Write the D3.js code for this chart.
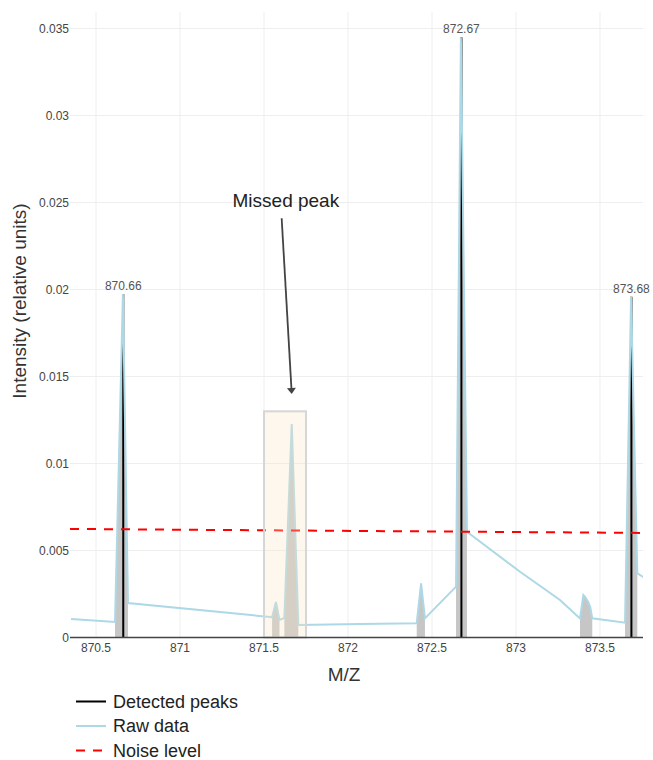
<!DOCTYPE html>
<html>
<head>
<meta charset="utf-8">
<script src="https://cdn.jsdelivr.net/npm/d3@7"></script>
<style>
  body { margin: 0; background: #fff; }
  text { font-family: "Liberation Sans", Arial, sans-serif; }
</style>
</head>
<body>
<div id="chart"></div>
<script>
// raw profile (m/z, intensity)
var rawMz = [870.351, 870.613, 870.660, 870.690, 871.536, 871.548, 871.571, 871.592, 871.621,
             871.665, 871.704, 872.071, 872.409, 872.435, 872.458, 872.643, 872.672, 872.708,
             873.024, 873.262, 873.381, 873.401, 873.411, 873.430, 873.442, 873.454, 873.649,
             873.685, 873.722, 873.760];
var rawInt = [0.00106, 0.00089, 0.01974, 0.00198, 0.00118, 0.00116, 0.00204, 0.00101, 0.00112,
              0.01227, 0.00072, 0.00078, 0.00082, 0.00311, 0.00110, 0.00292, 0.03450, 0.00608,
              0.00378, 0.00216, 0.00110, 0.00244, 0.00233, 0.00204, 0.00175, 0.00110, 0.00085,
              0.01959, 0.00369, 0.00346];

// peak regions (grey areas), in m/z
var areaStart = [870.613, 871.548, 871.621, 872.409, 872.643, 873.381, 873.649];
var areaEnd   = [870.690, 871.592, 871.704, 872.458, 872.708, 873.454, 873.722];

// detected peaks
var peakMz  = [870.662, 872.675, 873.687];
var peakInt = [0.01974, 0.0345, 0.01959];
var peakLabels = ["870.66", "872.67", "873.68"];

// noise level
var noiseMz  = [870.345, 873.756];
var noiseInt = [0.00624, 0.00601];

// missed peak box + annotation
var missedBox = { x0: 871.5, x1: 871.75, y0: 0, y1: 0.013 };
var annotText = "Missed peak";
var annotTextPos = [871.63, 0.0251];
var annotTail = [871.605, 0.0241];
var annotHead = [871.665, 0.0140];

var xTicks = [870.5, 871, 871.5, 872, 872.5, 873, 873.5];
var xTickLabels = ["870.5", "871", "871.5", "872", "872.5", "873", "873.5"];
var yTicks = [0, 0.005, 0.01, 0.015, 0.02, 0.025, 0.03, 0.035];
var yTickLabels = ["0", "0.005", "0.01", "0.015", "0.02", "0.025", "0.03", "0.035"];

var legendNames = ["Detected peaks", "Raw data", "Noise level"];

var W = 653, H = 760;
var margin = {left: 70, right: 10, top: 12, bottom: 122.5};

var svg = d3.select("#chart").append("svg").attr("width", W).attr("height", H);

var x = d3.scaleLinear().domain([870.345, 873.756]).range([margin.left, W - margin.right]);
var y = d3.scaleLinear().domain([0, 0.03595]).range([H - margin.bottom, margin.top]);

svg.append("defs").append("clipPath").attr("id", "clip")
  .append("rect").attr("x", margin.left).attr("y", margin.top)
  .attr("width", W - margin.left - margin.right).attr("height", H - margin.top - margin.bottom);

// grid
var grid = svg.append("g").attr("stroke", "#eeeeee").attr("stroke-width", 1);
grid.selectAll("line.v").data(xTicks).enter().append("line")
  .attr("x1", function(d){ return x(d); }).attr("x2", function(d){ return x(d); })
  .attr("y1", margin.top).attr("y2", y(0));
grid.selectAll("line.h").data(yTicks).enter().append("line")
  .attr("x1", margin.left).attr("x2", W - margin.right)
  .attr("y1", function(d){ return y(d); }).attr("y2", function(d){ return y(d); });

var raw = rawMz.map(function(m, i){ return {mz: m, v: rawInt[i]}; });
var plot = svg.append("g").attr("clip-path", "url(#clip)");

// grey peak areas
var area = d3.area().x(function(d){ return x(d.mz); }).y0(y(0)).y1(function(d){ return y(d.v); });
for (var i = 0; i < areaStart.length; i++) {
  var pts = raw.filter(function(d){ return d.mz >= areaStart[i] - 1e-6 && d.mz <= areaEnd[i] + 1e-6; });
  plot.append("path").attr("d", area(pts)).attr("fill", "#c6c6c6");
}

// detected peaks
plot.selectAll("line.peak").data(peakMz).enter().append("line")
  .attr("x1", function(d){ return x(d); }).attr("x2", function(d){ return x(d); })
  .attr("y1", y(0)).attr("y2", function(d, i){ return y(peakInt[i]); })
  .attr("stroke", "#000").attr("stroke-width", 2);

// raw data
var line = d3.line().x(function(d){ return x(d.mz); }).y(function(d){ return y(d.v); });
plot.append("path").attr("d", line(raw)).attr("fill", "none")
  .attr("stroke", "#add8e6").attr("stroke-width", 2);

// missed peak box
svg.append("rect")
  .attr("x", x(missedBox.x0)).attr("y", y(missedBox.y1))
  .attr("width", x(missedBox.x1) - x(missedBox.x0)).attr("height", y(missedBox.y0) - y(missedBox.y1))
  .attr("fill", "#f8e4c4").attr("fill-opacity", 0.3)
  .attr("stroke", "#d6d6d6").attr("stroke-width", 2);

// noise
var noise = noiseMz.map(function(m, i){ return {mz: m, v: noiseInt[i]}; });
plot.append("path").attr("d", line(noise)).attr("fill", "none")
  .attr("stroke", "#ff0000").attr("stroke-width", 2).attr("stroke-dasharray", "9,8");

// x axis line
svg.append("line").attr("x1", margin.left).attr("x2", W - margin.right)
  .attr("y1", y(0)).attr("y2", y(0)).attr("stroke", "#444").attr("stroke-width", 1.5);

// peak labels
svg.selectAll("text.plab").data(peakLabels).enter().append("text")
  .attr("x", function(d, i){ return x(peakMz[i]); })
  .attr("y", function(d, i){ return y(peakInt[i]) - 4; })
  .attr("text-anchor", "middle").attr("font-size", 12).attr("fill", "#555")
  .text(function(d){ return d; });

// ticks
svg.selectAll("text.xt").data(xTicks).enter().append("text")
  .attr("x", function(d){ return x(d); }).attr("y", y(0) + 14)
  .attr("text-anchor", "middle").attr("font-size", 12).attr("fill", "#444")
  .text(function(d, i){ return xTickLabels[i]; });
svg.selectAll("text.yt").data(yTicks).enter().append("text")
  .attr("x", margin.left - 1).attr("y", function(d){ return y(d) + 4; })
  .attr("text-anchor", "end").attr("font-size", 12).attr("fill", "#444")
  .text(function(d, i){ return yTickLabels[i]; });

// titles
svg.append("text").attr("x", 344).attr("y", 681).attr("text-anchor", "middle")
  .attr("font-size", 19).attr("fill", "#333").text("M/Z");
svg.append("text").attr("transform", "translate(26,301) rotate(-90)")
  .attr("text-anchor", "middle").attr("font-size", 19).attr("fill", "#333")
  .text("Intensity (relative units)");

// annotation
svg.append("text").attr("x", x(annotTextPos[0])).attr("y", y(annotTextPos[1]) + 6)
  .attr("text-anchor", "middle").attr("font-size", 19).attr("fill", "#222").text(annotText);
var hx = x(annotHead[0]), hy = y(annotHead[1]), tx = x(annotTail[0]), ty = y(annotTail[1]);
var ang = Math.atan2(hy - ty, hx - tx);
svg.append("line").attr("x1", tx).attr("y1", ty)
  .attr("x2", hx - 5 * Math.cos(ang)).attr("y2", hy - 5 * Math.sin(ang))
  .attr("stroke", "#444").attr("stroke-width", 1.8);
svg.append("path")
  .attr("d", "M0,0L-6,-4.5L-6,4.5Z")
  .attr("transform", "translate(" + hx + "," + hy + ") rotate(" + (ang * 180 / Math.PI) + ")")
  .attr("fill", "#444");

// legend
var lg = svg.append("g");
var lgColors = ["#000", "#add8e6", "#ff0000"];
legendNames.forEach(function(n, i){
  var ly = 701.5 + i * 24.5;
  lg.append("line").attr("x1", 76).attr("x2", 106).attr("y1", ly).attr("y2", ly)
    .attr("stroke", lgColors[i]).attr("stroke-width", 2)
    .attr("stroke-dasharray", i == 2 ? "9,8" : null);
  lg.append("text").attr("x", 113).attr("y", ly + 6).attr("font-size", 18).attr("fill", "#222").text(n);
});
</script>
</body>
</html>
